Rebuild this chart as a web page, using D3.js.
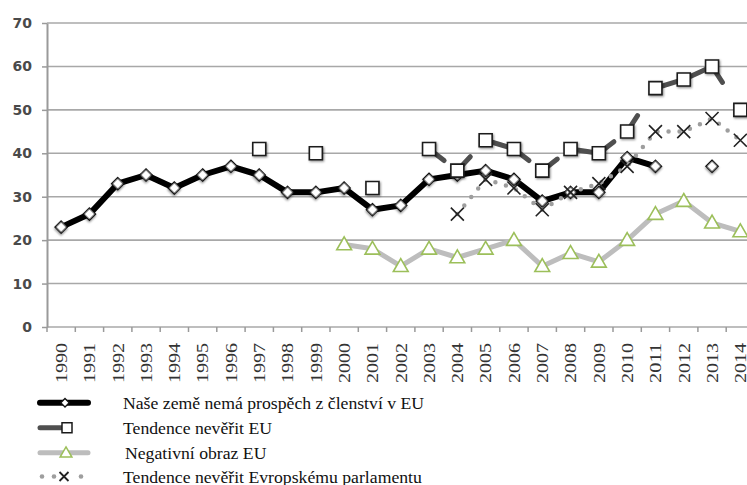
<!DOCTYPE html>
<html>
<head>
<meta charset="utf-8">
<script src="https://cdn.jsdelivr.net/npm/d3@7"></script>
<style>
  body { margin: 0; background: #fff; }
  svg { display: block; }
</style>
</head>
<body>
<svg id="chart_svg" width="747" height="485"></svg>
<script>
// values, one per year 1990..2014 (null = no survey)
const years = ["1990", "1991", "1992", "1993", "1994", "1995", "1996", "1997", "1998", "1999",
  "2000", "2001", "2002", "2003", "2004", "2005", "2006", "2007", "2008", "2009",
  "2010", "2011", "2012", "2013", "2014"];
const nemaProspech = [23, 26, 33, 35, 32, 35, 37, 35, 31, 31, 32, 27, 28, 34, 35, 36, 34, 29, 31, 31, 39, 37, null, 37, null];
const neveritEU = [null, null, null, null, null, null, null, 41, null, 40, null, 32, null, 41, 36, 43, 41, 36, 41, 40, 45, 55, 57, 60, 50];
const negativniObraz = [null, null, null, null, null, null, null, null, null, null, 19, 18, 14, 18, 16, 18, 20, 14, 17, 15, 20, 26, 29, 24, 22];
const neveritEP = [null, null, null, null, null, null, null, null, null, null, null, null, null, null, 26, 34, 32, 27, 31, 33, 37, 45, 45, 48, 43];
const yTicks = [0, 10, 20, 30, 40, 50, 60, 70];
const legendLabels = [
  "Naše země nemá prospěch z členství v EU",
  "Tendence nevěřit EU",
  "Negativní obraz EU",
  "Tendence nevěřit Evropskému parlamentu"
];

const svg = d3.select("#chart_svg");
const width = 747;

const margin = { left: 47, top: 23, bottom: 327 };
const step = 28.3;

const x = d3.scaleBand()
  .domain(years)
  .range([margin.left, margin.left + step * years.length])
  .paddingInner(0).paddingOuter(0);

const y = d3.scaleLinear()
  .domain([0, 70])
  .range([margin.bottom, margin.top]);

const cx = (yr) => x(yr) + x.bandwidth() / 2;

// soft drop shadow like the scanned markers
const defs = svg.append("defs");
const shadow = defs.append("filter").attr("id", "shadow")
  .attr("x", "-50%").attr("y", "-50%").attr("width", "200%").attr("height", "200%");
shadow.append("feDropShadow")
  .attr("dx", 1).attr("dy", 1.2).attr("stdDeviation", 0.9)
  .attr("flood-color", "#000").attr("flood-opacity", 0.45);

/**
 * gridlines + y axis
 */
const gGrid = svg.append("g");
gGrid.selectAll("line")
  .data(yTicks)
  .enter()
  .append("line")
  .attr("x1", margin.left)
  .attr("x2", width)
  .attr("y1", (d) => y(d))
  .attr("y2", (d) => y(d))
  .attr("stroke", "#a8a8a8")
  .attr("stroke-width", 1.6);

const gY = svg.append("g").attr("transform", "translate(" + margin.left + ",0)");
gY.call(d3.axisLeft(y).tickValues(yTicks).tickSize(5).tickPadding(10).tickSizeOuter(0));
gY.attr("font-family", "DejaVu Sans").attr("font-size", 14).attr("font-weight", "bold");
gY.select(".domain").attr("stroke", "#9a9a9a").attr("stroke-width", 2);
gY.selectAll(".tick line").attr("stroke", "#9a9a9a").attr("stroke-width", 1.5);
gY.selectAll(".tick text").attr("fill", "#4a4a4a");

/**
 * x axis, ticks between categories
 */
const gX = svg.append("g")
  .attr("transform", "translate(0," + margin.bottom + ")");
gX.call(d3.axisBottom(x).tickSize(5).tickSizeOuter(0));
gX.attr("font-family", "Liberation Serif").attr("font-size", 16);
gX.select(".domain").remove();
gX.selectAll(".tick line")
  .attr("x1", -step / 2).attr("x2", -step / 2)
  .attr("stroke", "#9a9a9a").attr("stroke-width", 1.5);
gX.selectAll(".tick text")
  .attr("transform", "rotate(-90)")
  .attr("text-anchor", "end")
  .attr("x", -16)
  .attr("y", 0)
  .attr("dy", "0.36em")
  .attr("textLength", 40)
  .attr("lengthAdjust", "spacingAndGlyphs")
  .attr("fill", "#333");

const g = svg.append("g");

const pts = (arr) => years.map((yr, i) => ({ year: yr, v: arr[i] }));

const line = d3.line()
  .defined((d) => d.v != null)
  .x((d) => cx(d.year))
  .y((d) => y(d.v));

const xPath = (r) => "M" + (-r) + "," + (-r) + "L" + r + "," + r + "M" + (-r) + "," + r + "L" + r + "," + (-r);

// Negativní obraz EU
g.append("path")
  .datum(pts(negativniObraz))
  .attr("fill", "none")
  .attr("stroke", "#bdbdbd")
  .attr("stroke-width", 5)
  .attr("stroke-linejoin", "round")
  .attr("d", line);

g.selectAll(".tri")
  .data(pts(negativniObraz).filter((d) => d.v != null))
  .enter()
  .append("path")
  .attr("class", "tri")
  .attr("transform", (d) => "translate(" + cx(d.year) + "," + (y(d.v) + 1) + ")")
  .attr("d", d3.symbol(d3.symbolTriangle, 95))
  .attr("fill", "#fff")
  .attr("stroke", "#9cbf5a")
  .attr("stroke-width", 1.6);

// Naše země nemá prospěch
g.append("path")
  .datum(pts(nemaProspech))
  .attr("fill", "none")
  .attr("stroke", "#000")
  .attr("stroke-width", 6)
  .attr("stroke-linejoin", "round")
  .attr("d", line);

g.selectAll(".dia")
  .data(pts(nemaProspech).filter((d) => d.v != null))
  .enter()
  .append("path")
  .attr("class", "dia")
  .attr("transform", (d) => "translate(" + cx(d.year) + "," + y(d.v) + ") rotate(45)")
  .attr("d", d3.symbol(d3.symbolSquare, 72))
  .attr("fill", "#fff")
  .attr("stroke", "#111")
  .attr("stroke-width", 1.5)
  .attr("filter", "url(#shadow)");

// Tendence nevěřit Evropskému parlamentu
g.append("path")
  .datum(pts(neveritEP))
  .attr("fill", "none")
  .attr("stroke", "#9e9e9e")
  .attr("stroke-width", 4.5)
  .attr("stroke-linecap", "round")
  .attr("stroke-dasharray", "0,11")
  .attr("d", line);

g.selectAll(".xm")
  .data(pts(neveritEP).filter((d) => d.v != null))
  .enter()
  .append("path")
  .attr("class", "xm")
  .attr("transform", (d) => "translate(" + cx(d.year) + "," + y(d.v) + ")")
  .attr("d", xPath(6.5))
  .attr("fill", "none")
  .attr("stroke", "#222")
  .attr("stroke-width", 1.6);

// Tendence nevěřit EU: the scan only keeps short stubs of the longer segments
const eu = pts(neveritEU);
const segs = [];
for (let i = 1; i < eu.length; i++) {
  if (eu[i - 1].v != null && eu[i].v != null) segs.push([eu[i - 1], eu[i]]);
}
g.selectAll(".seg")
  .data(segs)
  .enter()
  .append("path")
  .attr("class", "seg")
  .attr("d", (d) => line(d))
  .attr("fill", "none")
  .attr("stroke", "#4f4f4f")
  .attr("stroke-width", 5)
  .attr("stroke-linecap", "round")
  .attr("stroke-dasharray", (d) => {
    const dx = cx(d[1].year) - cx(d[0].year);
    const dy = y(d[1].v) - y(d[0].v);
    const len = Math.sqrt(dx * dx + dy * dy);
    return len > 33 ? "19," + len : null;
  });

g.selectAll(".sq")
  .data(eu.filter((d) => d.v != null))
  .enter()
  .append("path")
  .attr("class", "sq")
  .attr("transform", (d) => "translate(" + cx(d.year) + "," + y(d.v) + ")")
  .attr("d", d3.symbol(d3.symbolSquare, 169))
  .attr("fill", "#fff")
  .attr("stroke", "#1a1a1a")
  .attr("stroke-width", 1.6)
  .attr("filter", "url(#shadow)");

/**
 * legend
 */
const legend = svg.append("g").attr("class", "legend");
const rowY = [402.7, 427.7, 452.7, 476.5];
const textX = 123;

// row 1
legend.append("line")
  .attr("x1", 40).attr("x2", 88).attr("y1", rowY[0]).attr("y2", rowY[0])
  .attr("stroke", "#000").attr("stroke-width", 6).attr("stroke-linecap", "round");
legend.append("path")
  .attr("transform", "translate(65," + rowY[0] + ") rotate(45)")
  .attr("d", d3.symbol(d3.symbolSquare, 36))
  .attr("fill", "#fff").attr("stroke", "#111").attr("stroke-width", 1.4);

// row 2
legend.append("line")
  .attr("x1", 40).attr("x2", 62).attr("y1", rowY[1]).attr("y2", rowY[1])
  .attr("stroke", "#4f4f4f").attr("stroke-width", 5).attr("stroke-linecap", "round");
legend.append("path")
  .attr("transform", "translate(67," + rowY[1] + ")")
  .attr("d", d3.symbol(d3.symbolSquare, 100))
  .attr("fill", "#fff").attr("stroke", "#1a1a1a").attr("stroke-width", 1.5);

// row 3
legend.append("line")
  .attr("x1", 40).attr("x2", 88).attr("y1", rowY[2]).attr("y2", rowY[2])
  .attr("stroke", "#bdbdbd").attr("stroke-width", 5).attr("stroke-linecap", "round");
legend.append("path")
  .attr("transform", "translate(66," + (rowY[2] + 1) + ")")
  .attr("d", d3.symbol(d3.symbolTriangle, 60))
  .attr("fill", "#fff").attr("stroke", "#9cbf5a").attr("stroke-width", 1.5);

// row 4
legend.selectAll(".ldot")
  .data([42, 54, 81])
  .enter()
  .append("circle")
  .attr("class", "ldot")
  .attr("cx", (d) => d).attr("cy", rowY[3]).attr("r", 2.3)
  .attr("fill", "#9e9e9e");
legend.append("path")
  .attr("transform", "translate(64," + rowY[3] + ")")
  .attr("d", xPath(4.5))
  .attr("fill", "none").attr("stroke", "#222").attr("stroke-width", 1.8);

legend.selectAll(".ltext")
  .data(legendLabels)
  .enter()
  .append("text")
  .attr("class", "ltext")
  .attr("x", (d, i) => textX + (i === 2 ? 2 : 0))
  .attr("y", (d, i) => rowY[i] + 6)
  .attr("fill", "#111")
  .attr("font-family", "Liberation Serif")
  .attr("font-size", 17.7)
  .text((d) => d);
</script>
</body>
</html>
